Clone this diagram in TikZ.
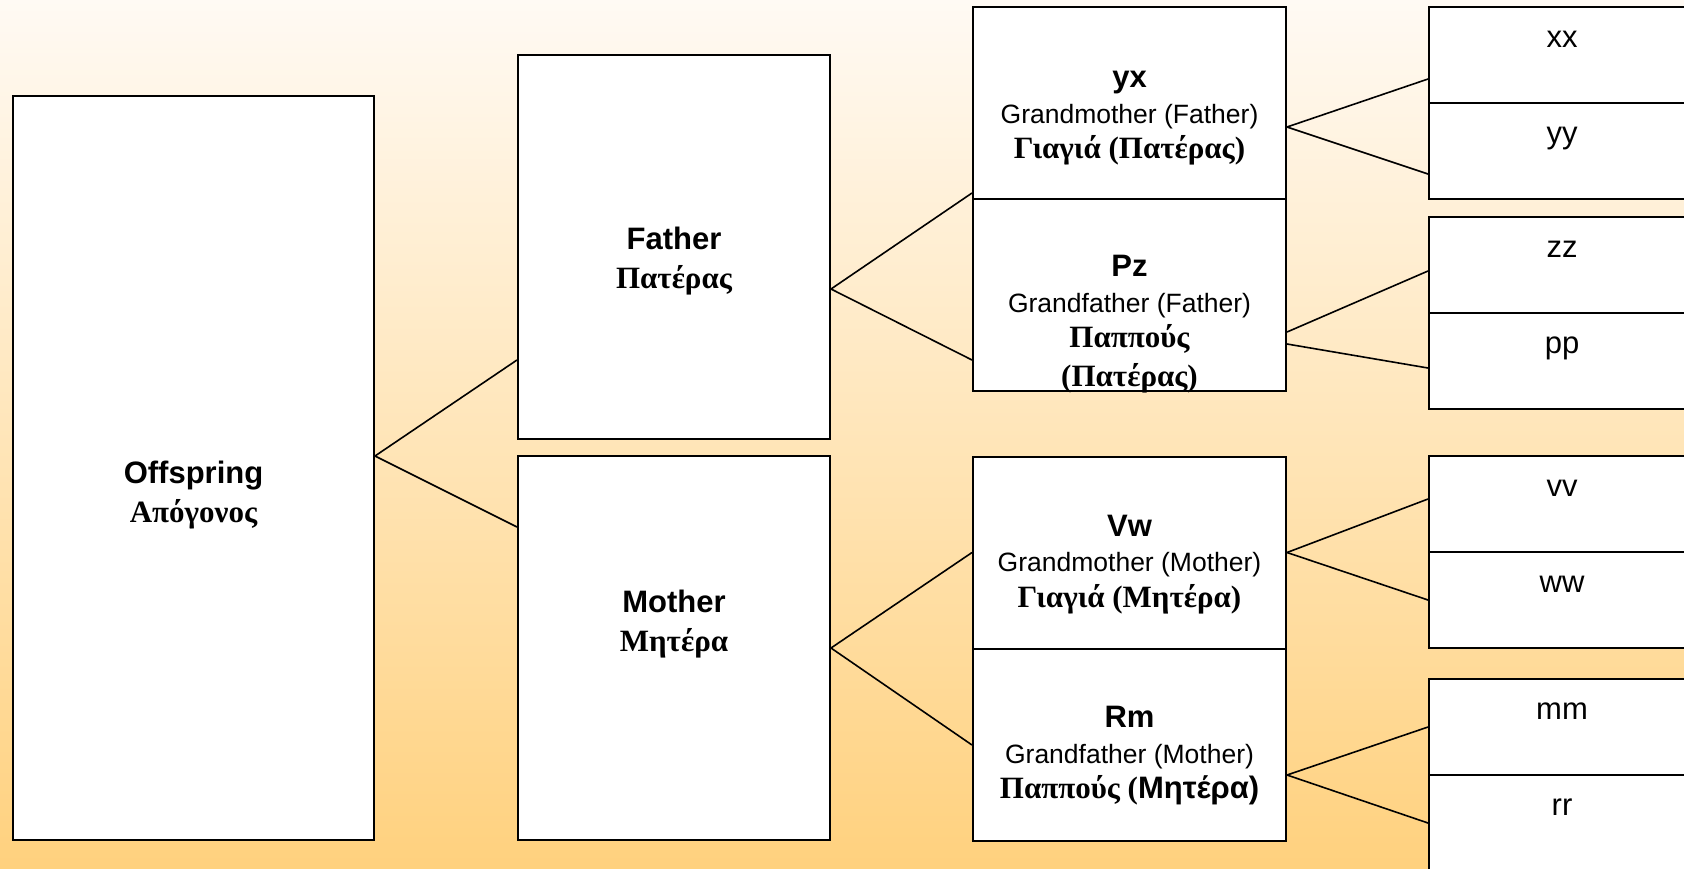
\documentclass[tikz,border=0pt]{standalone}
\usepackage{fontspec}
\setmainfont{Liberation Serif}
\setsansfont{Liberation Sans}
\usetikzlibrary{positioning}
\colorlet{penColor}{black}
\definecolor{bgTop}{HTML}{FFFAF4}
\definecolor{bgBottom}{HTML}{FFD17E}
\tikzset{
  person/.style={draw=penColor, line width=1pt, fill=white, inner sep=0pt},
  parent/.style={person, minimum width=156pt, minimum height=192pt},
  grand/.style={person, minimum width=156.5pt, minimum height=96pt},
  leaf/.style={person, minimum width=133pt, minimum height=48pt},
  link/.style={draw=penColor, line width=0.8pt},
  nameText/.style={align=center, font=\bfseries\fontsize{15.5}{19.5}\selectfont},
  grandText/.style={align=center, font=\fontsize{13.25}{17.75}\selectfont},
  leafText/.style={font=\sffamily\fontsize{15.5}{18}\selectfont, text height=1.5ex, text depth=0pt, yshift=7pt},
}
\newcommand{\bigSans}{\sffamily\bfseries\fontsize{15.5}{17.75}\selectfont}
\newcommand{\bigSerif}{\rmfamily\bfseries\fontsize{15.5}{17.75}\selectfont}

\begin{document}
\begin{tikzpicture}[x=0.5pt,y=-0.5pt]
	\useasboundingbox (0,0) rectangle (1684,868);
	\shade[top color=bgTop, bottom color=bgBottom] (0,0) rectangle (1684,868);
	\clip (0,0) rectangle (1684,868);
	% offspring and parents
	\node[person, minimum width=180.5pt, minimum height=372pt] (offspring) at (193.5,468) {};
	\node[parent] (father) at (674,247) {};
	\node[parent] (mother) at (674,648) {};
	% grandparents
	\node[grand] (gmf) at (1129.5,103) {};
	\node[grand] (gff) at (1129.5,295) {};
	\node[grand] (gmm) at (1129.5,552.5) {};
	\node[grand] (gfm) at (1129.5,745) {};
	% right column
	\node[leaf, label={[leafText]center:xx}] (xx) at (1562,55) {};
	\node[leaf, label={[leafText]center:yy}] (yy) at (1562,151) {};
	\node[leaf, label={[leafText]center:zz}] (zz) at (1562,265) {};
	\node[leaf, label={[leafText]center:pp}] (pp) at (1562,361) {};
	\node[leaf, label={[leafText]center:vv}] (vv) at (1562,504) {};
	\node[leaf, label={[leafText]center:ww}] (ww) at (1562,600) {};
	\node[leaf, label={[leafText]center:mm}] (mm) at (1562,727) {};
	\node[leaf, label={[leafText]center:rr}] (rr) at (1562,823) {};
	% texts
	\node[nameText] (offspring-txt) at (193.5,495) {{\sffamily Offspring}\\Απόγονος};
	\node[nameText] (father-txt) at (674,261) {{\sffamily Father}\\Πατέρας};
	\node[nameText] (mother-txt) at (674,624) {{\sffamily Mother}\\Μητέρα};
	\node[grandText] (gmf-txt) at (1129.5,118.5) {{\bigSans yx}\\{\sffamily Grandmother (Father)}\\{\bigSerif Γιαγιά (Πατέρας)}};
	\node[grandText] (gff-txt) at (1129.5,324) {{\bigSans Pz}\\{\sffamily Grandfather (Father)}\\{\bigSerif Παππούς}\\[1.5pt]{\bigSerif (Πατέρας)}};
	\node[grandText] (gmm-txt) at (1129.5,564.5) {{\bigSans Vw}\\{\sffamily Grandmother (Mother)}\\{\bigSerif Γιαγιά (Μητέρα)}};
	\node[grandText] (gfm-txt) at (1129.5,756) {{\bigSans Rm}\\{\sffamily Grandfather (Mother)}\\{\bigSerif Παππούς (}{\bigSans Μητέρα)}};
	% connectors
	\draw[link] ([yshift=6pt]offspring.east) -- ([yshift=-56.5pt]father.west);
	\draw[link] ([yshift=6pt]offspring.east) -- ([yshift=60.5pt]mother.west);
	\draw[link] ([yshift=-21pt]father.east) -- ([yshift=-45pt]gmf.west);
	\draw[link] ([yshift=-21pt]father.east) -- ([yshift=-32.5pt]gff.west);
	\draw[link] (mother.east) -- (gmm.west);
	\draw[link] (mother.east) -- (gfm.west);
	\draw[link] ([yshift=-12pt]gmf.east) -- ([yshift=-12pt]xx.west);
	\draw[link] ([yshift=-12pt]gmf.east) -- ([yshift=-11.5pt]yy.west);
	\draw[link] ([yshift=-18.5pt]gff.east) -- ([yshift=-3pt]zz.west);
	\draw[link] ([yshift=-24.5pt]gff.east) -- ([yshift=-3.5pt]pp.west);
	\draw[link] (gmm.east) -- ([yshift=2.5pt]vv.west);
	\draw[link] (gmm.east) -- (ww.west);
	\draw[link] ([yshift=-15pt]gfm.east) -- (mm.west);
	\draw[link] ([yshift=-15pt]gfm.east) -- (rr.west);
\end{tikzpicture}
\end{document}
